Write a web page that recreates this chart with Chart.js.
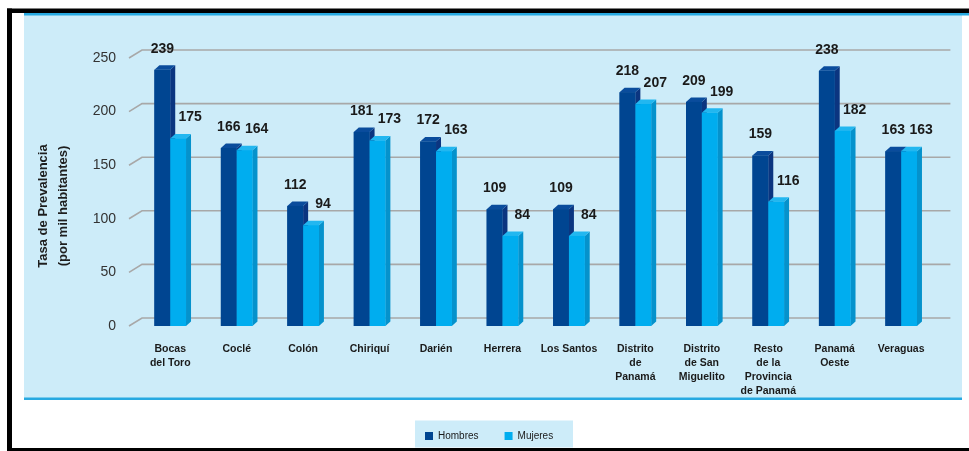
<!DOCTYPE html>
<html><head><meta charset="utf-8">
<script src="https://cdn.jsdelivr.net/npm/chart.js@4.4.1/dist/chart.umd.min.js"></script>
<style>html,body{margin:0;padding:0;background:#fff;overflow:hidden;}canvas{display:block;}</style>
</head><body>
<canvas id="c" width="969" height="451"></canvas>
<script>
const categories = [['Bocas','del Toro'],'Coclé','Colón','Chiriquí','Darién','Herrera','Los Santos',['Distrito','de','Panamá'],['Distrito','de San','Miguelito'],['Resto','de la','Provincia','de Panamá'],['Panamá','Oeste'],'Veraguas'];
const hombres = [239,166,112,181,172,109,109,218,209,159,238,163];
const mujeres = [175,164,94,173,163,84,84,207,199,116,182,163];
const seriesNames = ['Hombres','Mujeres'];
const yTicks = [0,50,100,150,200,250];
const yTitle = ['Tasa de Prevalencia','(por mil habitantes)'];

const FONT = "'Liberation Sans', Arial, sans-serif";
const faces = [
  {front:'#004591', side:'#0b3580', top:'#0a4c9c'},
  {front:'#00adef', side:'#0592cc', top:'#22b7f0'}
];
const DX = 5, DY = -4.5;       // bar depth
const GDX = 13, GDY = -8;      // grid (back wall) depth

const framePlugin = {
  id:'frame',
  beforeDraw(chart){
    const ctx = chart.ctx;
    ctx.save();
    ctx.fillStyle = '#ffffff';
    ctx.fillRect(0,0,chart.width,chart.height);
    // panel
    ctx.fillStyle = '#cdecf9';
    ctx.fillRect(24,15,938,384);
    ctx.fillStyle = '#27a9e1';
    ctx.fillRect(24,13,945,2.5);
    ctx.fillRect(24,397.5,938,2.5);
    // black frame
    ctx.fillStyle = '#000';
    ctx.fillRect(7,8.5,962,4.5);
    ctx.fillRect(7,8.5,5,443);
    ctx.fillRect(7,448,962,3);
    // legend background
    const lg = chart.legend;
    if (lg && lg.legendHitBoxes && lg.legendHitBoxes.length){
      const hb = lg.legendHitBoxes;
      const x0 = hb[0].left - 10, x1 = hb[hb.length-1].left + hb[hb.length-1].width + 13;
      const yc = hb[0].top + hb[0].height/2;
      ctx.fillStyle = '#cdecf9';
      ctx.fillRect(x0, yc - 15.5, 158, 27);
    }
    // y title
    ctx.fillStyle = '#1e1e1e';
    ctx.font = 'bold 13px ' + FONT;
    ctx.textAlign = 'center';
    ctx.textBaseline = 'middle';
    const ya = chart.scales.y;
    const cy = (ya.top + ya.bottom)/2 + 14;
    yTitle.forEach((t,i)=>{
      ctx.save();
      ctx.translate(43.5 + i*20, cy);
      ctx.rotate(-Math.PI/2);
      ctx.fillText(t,0,0);
      ctx.restore();
    });
    ctx.restore();
  },
  afterLayout(chart){
    const lg = chart.legend;
    if (!lg || !lg.lineWidths) return;
    const pad = lg.options.labels.padding;
    const start = (lg.left + pad + lg.right - lg.lineWidths[0]) / 2;
    const d = 425 - start;
    lg.left += d; lg.right += d;
  },
  beforeDatasetsDraw(chart){
    const ctx = chart.ctx, ys = chart.scales.y, area = chart.chartArea;
    ctx.save();
    ctx.strokeStyle = '#a8a8a8';
    ctx.lineWidth = 1.6;
    yTicks.forEach(v=>{
      const y = ys.getPixelForValue(v);
      ctx.beginPath();
      ctx.moveTo(area.left - 8, y);
      ctx.lineTo(area.left - 8 + GDX, y + GDY);
      ctx.lineTo(area.right + 16, y + GDY);
      ctx.stroke();
    });
    ctx.restore();
  },
  afterDatasetsDraw(chart){
    const ctx = chart.ctx;
    const metas = [chart.getDatasetMeta(0), chart.getDatasetMeta(1)];
    ctx.save();
    for (let i = 0; i < categories.length; i++){
      metas.forEach((meta,d)=>{
        const el = meta.data[i];
        const {x,y,base,width} = el.getProps(['x','y','base','width'], true);
        const l = x - width/2, r = x + width/2;
        const f = faces[d];
        ctx.fillStyle = f.side;
        ctx.beginPath();
        ctx.moveTo(r, y); ctx.lineTo(r+DX, y+DY); ctx.lineTo(r+DX, base+DY); ctx.lineTo(r, base); ctx.closePath(); ctx.fill();
        ctx.fillStyle = f.top;
        ctx.beginPath();
        ctx.moveTo(l, y); ctx.lineTo(l+DX, y+DY); ctx.lineTo(r+DX, y+DY); ctx.lineTo(r, y); ctx.closePath(); ctx.fill();
        ctx.fillStyle = f.front;
        ctx.fillRect(l, y, width, base - y);
      });
    }
    ctx.fillStyle = '#1a1a1a';
    ctx.font = 'bold 14px ' + FONT;
    ctx.textAlign = 'center';
    ctx.textBaseline = 'middle';
    metas.forEach((meta,d)=>{
      const vals = chart.data.datasets[d].data;
      meta.data.forEach((el,i)=>{
        const {x,y} = el.getProps(['x','y'], true);
        ctx.fillText(String(vals[i]), x + (d === 0 ? 0 : 12), y - 21);
      });
    });
    ctx.restore();
  }
};

new Chart(document.getElementById('c'), {
  type:'bar',
  data:{
    labels: categories,
    datasets:[
      {label: seriesNames[0], data: hombres, backgroundColor: faces[0].front, borderWidth:0, categoryPercentage:0.4755, barPercentage:1},
      {label: seriesNames[1], data: mujeres, backgroundColor: faces[1].front, borderWidth:0, categoryPercentage:0.4755, barPercentage:1}
    ]
  },
  options:{
    responsive:false,
    animation:false,
    devicePixelRatio:1,
    layout:{padding:{left:0, right:34.6, top:58, bottom:0}},
    font:{family:FONT},
    plugins:{
      tooltip:{enabled:false},
      title:{display:false},
      legend:{
        display:true,
        position:'bottom',
        labels:{boxWidth:8, boxHeight:8, padding:26, color:'#1a1a1a', font:{family:FONT, size:10}}
      }
    },
    scales:{
      x:{
        grid:{display:false}, border:{display:false},
        ticks:{color:'#1a1a1a', font:{family:FONT, size:10.5, weight:'bold', lineHeight:1.333}, padding:8, maxRotation:0, autoSkip:false},
        afterFit(s){ s.height = 79; }
      },
      y:{
        min:0, max:250,
        grid:{display:false}, border:{display:false},
        afterBuildTicks(s){ s.ticks = yTicks.map(v=>({value:v})); },
        ticks:{color:'#333333', font:{family:FONT, size:14}, padding:13},
        afterFit(s){ s.width = 137; }
      }
    }
  },
  plugins:[framePlugin]
});
</script>
</body></html>
